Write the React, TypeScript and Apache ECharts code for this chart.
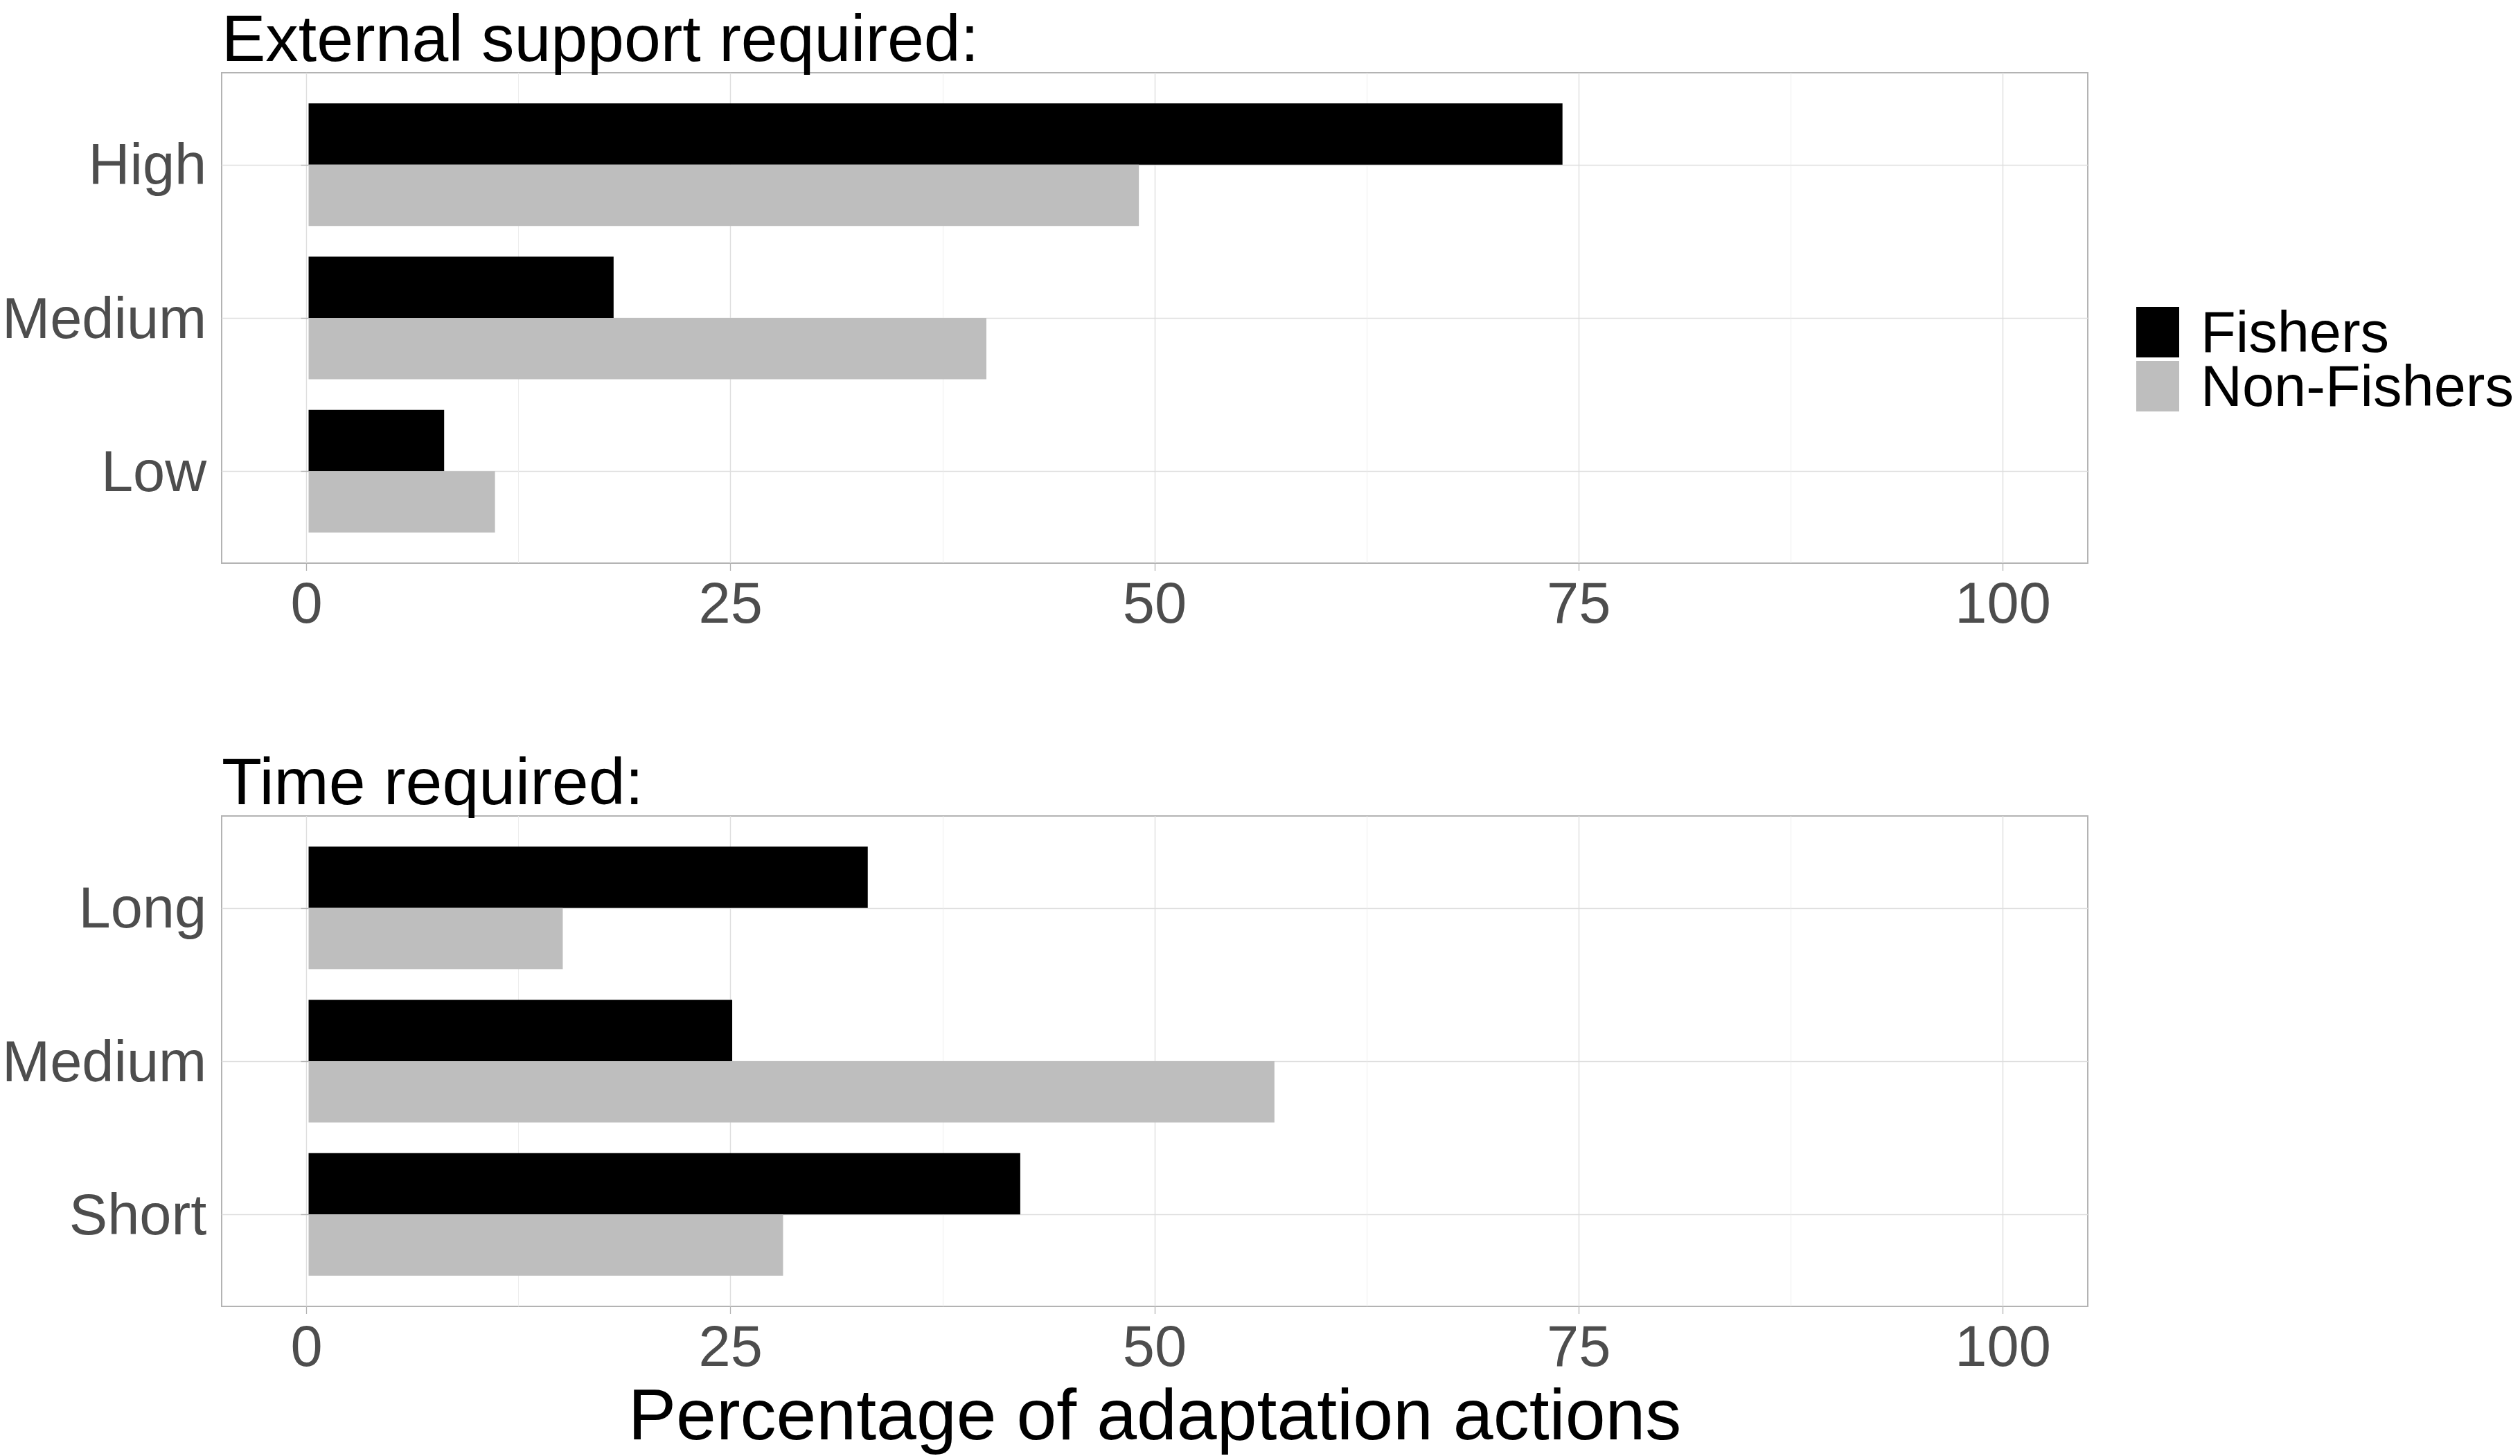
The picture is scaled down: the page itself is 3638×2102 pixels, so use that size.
import React, { useEffect, useRef } from "react";
import * as echarts from "echarts";

// ---- data ----
const GROUPS = ["Fishers", "Non-Fishers"];
const GROUP_COLORS = ["#000000", "#bebebe"];

const EXT_TITLE = "External support required:";
const EXT_CATS = ["High", "Medium", "Low"];
const EXT_FISHERS = [74, 18, 8];
const EXT_NONFISHERS = [49, 40, 11];

const TIME_TITLE = "Time required:";
const TIME_CATS = ["Long", "Medium", "Short"];
const TIME_FISHERS = [33, 25, 42];
const TIME_NONFISHERS = [15, 57, 28];

const X_MIN = 0;
const X_MAX = 100;
const X_INTERVAL = 25;
const X_TITLE = "Percentage of adaptation actions";

// ---- layout ----
const W = 3638;
const H = 2102;
const FONT = "'Liberation Sans', Arial, sans-serif";
const PL = 320;
const PR = 3014;
const XEXP = 5; // ggplot-like 5% expansion
const UNITX = (PR - PL) / (X_MAX - X_MIN + 2 * XEXP);
const X0 = PL + XEXP * UNITX;
const X100 = PR - XEXP * UNITX;
const PANELS = [
  { top: 105, bottom: 813 },
  { top: 1178, bottom: 1886 },
];

const GRID_COLOR = "#dedede";
const MINOR_COLOR = "#ebebeb";
const BORDER_COLOR = "#b3b3b3";
const TICK_TEXT = "#4d4d4d";

function buildOption() {
  const grid: any[] = [];
  const xAxis: any[] = [];
  const yAxis: any[] = [];
  const series: any[] = [];
  const title: any[] = [];

  const panelsData = [
    { title: EXT_TITLE, cats: EXT_CATS, vals: [EXT_FISHERS, EXT_NONFISHERS] },
    { title: TIME_TITLE, cats: TIME_CATS, vals: [TIME_FISHERS, TIME_NONFISHERS] },
  ];

  panelsData.forEach((pd, p) => {
    const { top, bottom } = PANELS[p];
    const u = (bottom - top) / (pd.cats.length - 1 + 1.2);
    const base = p * 4;
    const isLast = p === panelsData.length - 1;

    // A: vertical grid lines, x ticks & labels
    grid.push({ left: X0, right: W - X100, top, bottom: H - bottom, containLabel: false });
    xAxis.push({
      gridIndex: base,
      type: "value",
      min: X_MIN,
      max: X_MAX,
      interval: X_INTERVAL,
      axisLine: { show: false },
      axisTick: { show: true, length: 11, lineStyle: { color: BORDER_COLOR, width: 1.3 } },
      axisLabel: { fontSize: 83, color: TICK_TEXT, margin: 16, fontFamily: FONT },
      splitLine: { show: true, lineStyle: { color: GRID_COLOR, width: 1.4 } },
      minorTick: { show: false, splitNumber: 2 },
      minorSplitLine: { show: true, lineStyle: { color: MINOR_COLOR, width: 0.9 } },
      ...(isLast
        ? {
            name: X_TITLE,
            nameLocation: "middle",
            nameGap: 104,
            nameTextStyle: { fontSize: 104, color: "#000", fontFamily: FONT },
          }
        : {}),
    });
    yAxis.push({ gridIndex: base, type: "value", show: false, min: 0, max: 1 });

    // B: bars, y labels & ticks
    grid.push({ left: PL, right: W - PR, top: top + 0.1 * u, bottom: H - bottom + 0.1 * u });
    xAxis.push({ gridIndex: base + 1, type: "value", show: false, min: X_MIN - XEXP, max: X_MAX + XEXP });
    yAxis.push({
      gridIndex: base + 1,
      type: "category",
      data: pd.cats,
      inverse: true,
      axisLine: { show: false },
      axisTick: { show: true, alignWithLabel: true, length: 11, lineStyle: { color: BORDER_COLOR, width: 1.3 } },
      axisLabel: { fontSize: 83, color: TICK_TEXT, margin: 25, fontFamily: FONT },
      splitLine: { show: false },
    });

    // C: panel border
    grid.push({
      left: PL,
      right: W - PR,
      top,
      bottom: H - bottom,
      show: true,
      borderColor: BORDER_COLOR,
      borderWidth: 2,
      backgroundColor: "transparent",
    });
    xAxis.push({ gridIndex: base + 2, type: "value", show: false, min: 0, max: 1 });
    yAxis.push({ gridIndex: base + 2, type: "value", show: false, min: 0, max: 1 });

    // D: horizontal grid lines at category centres
    grid.push({ left: PL, right: W - PR, top: top + 0.6 * u, bottom: H - bottom + 0.6 * u });
    xAxis.push({ gridIndex: base + 3, type: "value", show: false, min: 0, max: 1 });
    yAxis.push({
      gridIndex: base + 3,
      type: "value",
      min: 0,
      max: pd.cats.length - 1,
      interval: 1,
      axisLine: { show: false },
      axisTick: { show: false },
      axisLabel: { show: false },
      splitLine: { show: true, lineStyle: { color: GRID_COLOR, width: 1.4 } },
    });

    GROUPS.forEach((g, gi) => {
      series.push({
        type: "bar",
        name: g,
        xAxisIndex: base + 1,
        yAxisIndex: base + 1,
        data: pd.vals[gi],
        barGap: "0%",
        barCategoryGap: "20%",
        itemStyle: { color: GROUP_COLORS[gi] },
      });
    });

    title.push({
      text: pd.title,
      left: PL,
      top: top - 98,
      padding: 0,
      textStyle: { fontSize: 95, fontWeight: "normal", color: "#000", fontFamily: FONT },
    });
  });

  return {
    animation: false,
    backgroundColor: "#ffffff",
    textStyle: { fontFamily: FONT },
    title,
    legend: {
      orient: "vertical",
      left: 3084,
      top: 438,
      padding: 0,
      itemWidth: 62,
      itemHeight: 73,
      itemGap: -5,
      icon: "rect",
      selectedMode: false,
      data: GROUPS,
      textStyle: { fontSize: 83, color: "#000", lineHeight: 73, padding: [0, 0, 0, 26], fontFamily: FONT },
    },
    grid,
    xAxis,
    yAxis,
    series,
  };
}

export default function App() {
  const ref = useRef<HTMLDivElement>(null);
  useEffect(() => {
    if (!ref.current) return;
    const chart = echarts.init(ref.current, undefined, { renderer: "svg" });
    chart.setOption(buildOption() as any);
    return () => chart.dispose();
  }, []);
  return (
    <div
      ref={ref}
      style={{ position: "fixed", left: 0, top: 0, width: W + "px", height: H + "px", background: "#fff" }}
    />
  );
}
